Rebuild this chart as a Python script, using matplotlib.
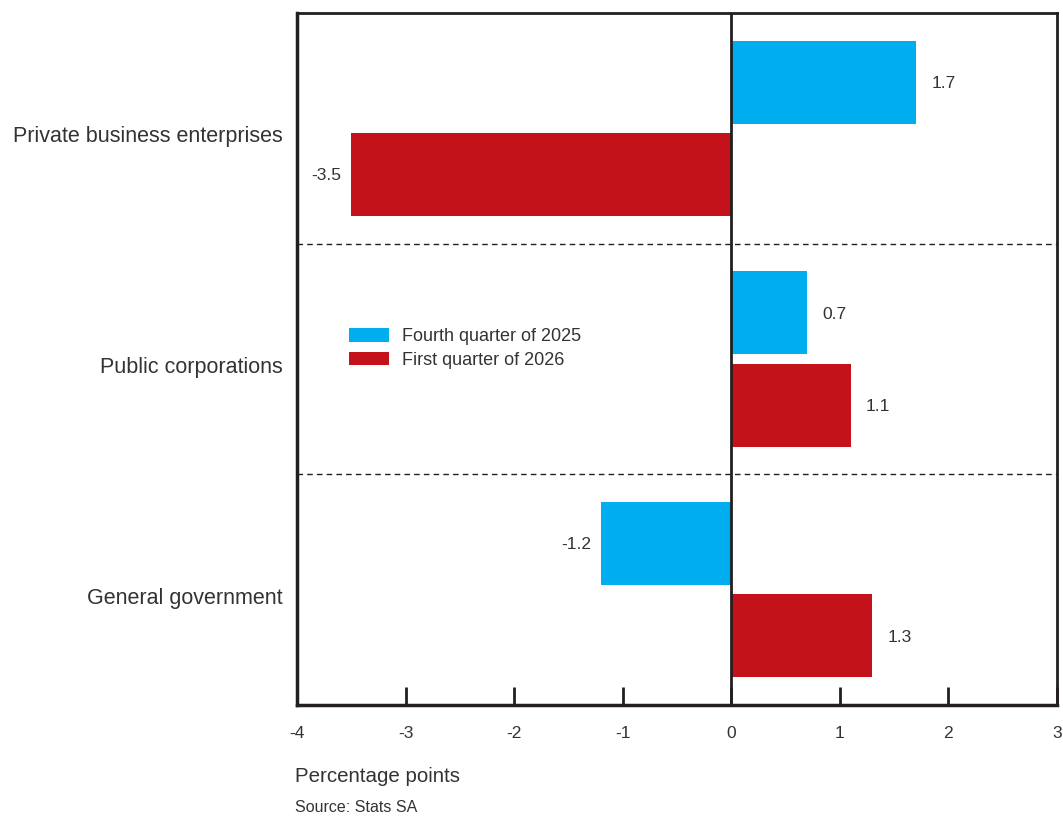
import numpy as np
import matplotlib.pyplot as plt
import matplotlib.transforms as mtransforms

categorias = ["Private business enterprises", "Public corporations", "General government"]
q4_2025 = [1.7, 0.7, -1.2]
q1_2026 = [-3.5, 1.1, 1.3]
series_nomes = ["Fourth quarter of 2025", "First quarter of 2026"]

azul = "#00aeef"
vermelho = "#c4121a"
cinza_txt = "#333333"

plt.rcParams["font.family"] = ["Liberation Sans", "DejaVu Sans"]
plt.rcParams["axes.unicode_minus"] = False

fig = plt.figure(figsize=(10.63, 8.16), dpi=100)
ax = fig.add_axes([297 / 1063, 1 - 705 / 816, 760 / 1063, 692 / 816])

y = np.arange(len(categorias))
altura = 0.36
b1 = ax.barh(y - 0.2, q4_2025, height=altura, color=azul, label=series_nomes[0], zorder=2)
b2 = ax.barh(y + 0.2, q1_2026, height=altura, color=vermelho, label=series_nomes[1], zorder=2)

# rotulos de valor
for barras, vals in ((b1, q4_2025), (b2, q1_2026)):
    for barra, v in zip(barras, vals):
        yc = barra.get_y() + barra.get_height() / 2
        if v >= 0:
            ax.annotate(f"{v:.1f}", (v, yc), xytext=(11, -1), textcoords="offset points",
                        ha="left", va="center", fontsize=12.5, color=cinza_txt)
        else:
            ax.annotate(f"{v:.1f}", (v, yc), xytext=(-7, -1), textcoords="offset points",
                        ha="right", va="center", fontsize=12.5, color=cinza_txt)

ax.set_xlim(-4, 3)
ax.set_ylim(2.5, -0.5)
ax.axvline(0, color="#231f20", linewidth=2, zorder=3)
for yl in (0.5, 1.5):
    ax.axhline(yl, color="#231f20", linewidth=1, linestyle=(0, (4, 3)), zorder=1)

ax.set_yticks(y)
ax.set_yticklabels(categorias, fontsize=15.5, color=cinza_txt)
ax.tick_params(axis="y", length=0, pad=10)
desloc = mtransforms.ScaledTranslation(0, -6 / 100, fig.dpi_scale_trans)
for lbl in ax.get_yticklabels():
    lbl.set_transform(lbl.get_transform() + desloc)

ax.set_xticks(range(-4, 4))
ax.tick_params(axis="x", direction="in", length=13, width=2, color="#231f20",
               labelsize=12.5, labelcolor=cinza_txt, pad=15)

for lado in ("left", "bottom"):
    ax.spines[lado].set_linewidth(2.5)
    ax.spines[lado].set_color("#231f20")
for lado in ("top", "right"):
    ax.spines[lado].set_linewidth(2)
    ax.spines[lado].set_color("#231f20")

ax.legend(loc="upper left", bbox_to_anchor=(0.047, 0.568), frameon=False, fontsize=13,
          handlelength=2.2, handleheight=0.75, handletextpad=0.75, labelspacing=0.35,
          labelcolor=cinza_txt)

fig.text(295 / 1063, 1 - 777 / 816, "Percentage points", fontsize=14.8, color=cinza_txt, va="center")
fig.text(295 / 1063, 1 - 807 / 816, "Source: Stats SA", fontsize=11.5, color=cinza_txt, va="center")

fig.savefig("out.png", dpi=100)
